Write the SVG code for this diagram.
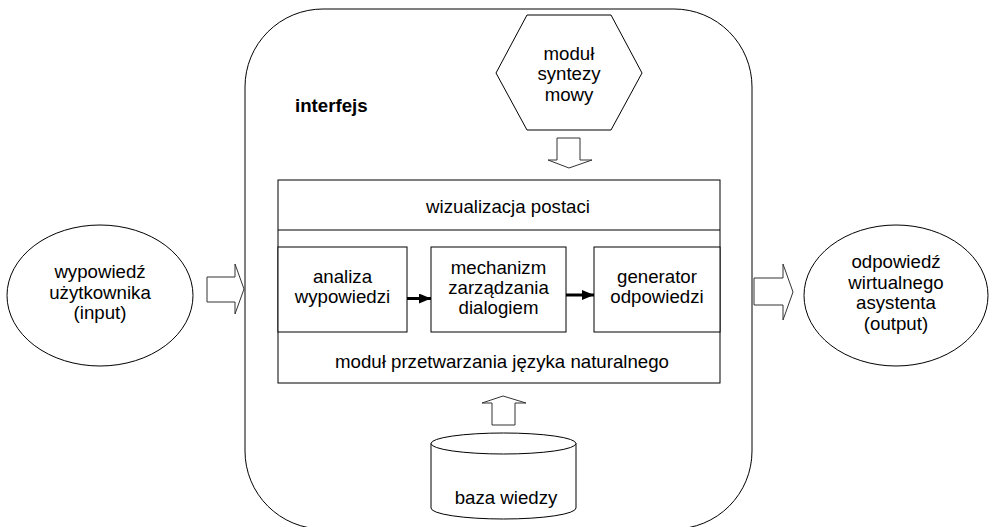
<svg xmlns="http://www.w3.org/2000/svg" width="993" height="527" viewBox="0 0 993 527">
<style>
  .shape { fill: #fff; stroke: #000; stroke-width: 1; }
  .hollow { fill: #fff; stroke: #333; stroke-width: 1; stroke-linejoin: miter; }
  .t { font-family: "Liberation Sans", Arial, sans-serif; font-size: 18.67px; fill: #000; text-anchor: middle; }
  .b { font-weight: bold; text-anchor: start; }
  .flow { stroke: #000; stroke-width: 3; fill: none; }
</style>
<defs>
  <marker id="ah" viewBox="0 0 12 10" refX="12" refY="5" markerWidth="12" markerHeight="10" markerUnits="userSpaceOnUse" orient="auto">
    <path d="M0,0 L12,5 L0,10 Z" fill="#000"/>
  </marker>
</defs>
<rect width="993" height="527" fill="#fff"/>

<g id="interfejs">
  <rect class="shape" x="245" y="9" width="507" height="520" rx="78" ry="78"/>
  <text class="t b" x="295" y="112">interfejs</text>
</g>

<g id="modul-syntezy-mowy">
  <polygon class="shape" points="527,15 611,15 642,73 611,130 527,130 496,73"/>
  <text class="t" x="569" y="59.5">moduł</text>
  <text class="t" x="569" y="80">syntezy</text>
  <text class="t" x="569" y="100.5">mowy</text>
</g>

<g id="wizualizacja-postaci">
  <rect class="shape" x="278" y="180" width="442" height="203"/>
  <line x1="278" y1="230" x2="720" y2="230" stroke="#000" stroke-width="1"/>
  <text class="t" x="508" y="213">wizualizacja postaci</text>
  <text class="t" x="502" y="368">moduł przetwarzania języka naturalnego</text>
</g>

<g id="analiza-wypowiedzi">
  <rect class="shape" x="278" y="247" width="129" height="85"/>
  <text class="t" x="342.5" y="283">analiza</text>
  <text class="t" x="342.5" y="303">wypowiedzi</text>
</g>

<g id="mechanizm-zarzadzania-dialogiem">
  <rect class="shape" x="431" y="247" width="135" height="85"/>
  <text class="t" x="498.5" y="274">mechanizm</text>
  <text class="t" x="498.5" y="294">zarządzania</text>
  <text class="t" x="498.5" y="314">dialogiem</text>
</g>

<g id="generator-odpowiedzi">
  <rect class="shape" x="594" y="247" width="126" height="85"/>
  <text class="t" x="657" y="283">generator</text>
  <text class="t" x="657" y="303">odpowiedzi</text>
</g>

<g id="wypowiedz-uzytkownika">
  <ellipse class="shape" cx="100" cy="295.5" rx="93" ry="70.5"/>
  <text class="t" x="100" y="278">wypowiedź</text>
  <text class="t" x="100" y="298.5">użytkownika</text>
  <text class="t" x="100" y="319">(input)</text>
</g>

<g id="odpowiedz-asystenta">
  <ellipse class="shape" cx="896" cy="295.5" rx="92" ry="70.5"/>
  <text class="t" x="896" y="268">odpowiedź</text>
  <text class="t" x="896" y="288.5">wirtualnego</text>
  <text class="t" x="896" y="309">asystenta</text>
  <text class="t" x="896" y="329.5">(output)</text>
</g>

<g id="baza-wiedzy">
  <path class="shape" d="M431,443.5 L431,508 A72.5,11 0 0 0 576,508 L576,443.5 A72.5,10.5 0 0 0 431,443.5 Z"/>
  <path d="M431,443.5 A72.5,10.5 0 0 0 576,443.5" fill="none" stroke="#000" stroke-width="1"/>
  <text class="t" x="506" y="504">baza wiedzy</text>
</g>

<g id="connectors">
  <polygon class="hollow" points="207,277 235,277 235,264 244,289 235,314 235,302 207,302"/>
  <polygon class="hollow" points="754,278 783,278 783,264 793,292 783,320 783,305 754,305"/>
  <polygon class="hollow" points="557,138 580,138 580,160 592,160 569,168 548,160 557,160"/>
  <polygon class="hollow" points="492,425 492,403 482,403 503,396 526,403 515,403 515,425"/>
  <line class="flow" x1="407" y1="298.5" x2="431" y2="298.5" marker-end="url(#ah)"/>
  <line class="flow" x1="566" y1="295" x2="594" y2="295" marker-end="url(#ah)"/>
</g>
</svg>
